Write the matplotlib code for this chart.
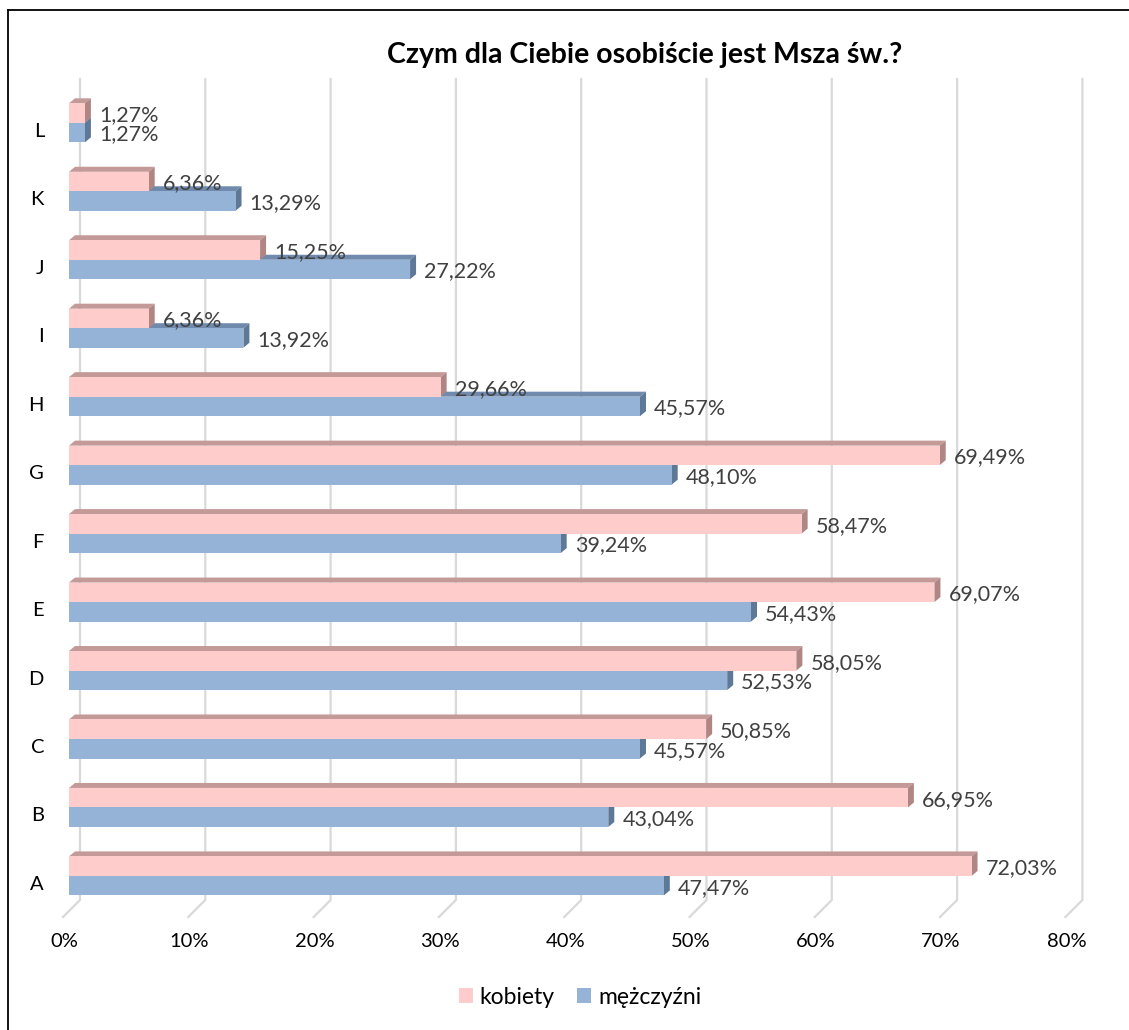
import matplotlib
matplotlib.use("Agg")
from matplotlib import pyplot as plt
from matplotlib.patches import Polygon, Patch
from matplotlib.lines import Line2D
from matplotlib.transforms import ScaledTranslation

categories = ["A", "B", "C", "D", "E", "F", "G", "H", "I", "J", "K", "L"]
kobiety = [72.03, 66.95, 50.85, 58.05, 69.07, 58.47, 69.49, 29.66, 6.36, 15.25, 6.36, 1.27]
mezczyzni = [47.47, 43.04, 45.57, 52.53, 54.43, 39.24, 48.10, 45.57, 13.92, 27.22, 13.29, 1.27]
ticks = [0, 10, 20, 30, 40, 50, 60, 70, 80]
tick_labels = [f"{t}%" for t in ticks]
title = "Czym dla Ciebie osobiście jest Msza św.?"

PINK = "#FFCCCC"
PINK_TOP = "#C49A98"
PINK_SIDE = "#B08684"
BLUE = "#95B3D7"
BLUE_TOP = "#6F8AAD"
BLUE_SIDE = "#5E7898"
GRID = "#D9D9D9"

FONT = ["Lato", "DejaVu Sans"]
plt.rcParams["font.family"] = FONT

W, H = 1129, 1030
fig = plt.figure(figsize=(W / 100, H / 100), dpi=100)
# axes box in pixels: left 69, right 1071, top 79, bottom 917
ax = fig.add_axes([69 / W, 1 - 917 / H, (1071.4 - 69) / W, (917 - 79) / H])
ax.set_xlim(0, 80)
ax.set_ylim(-0.6, 11.64)
for s in ax.spines.values():
    s.set_visible(False)

h = 0.285
DX, DY = 6, 5  # depth of bars in pixels


def px_to_data(pts):
    return ax.transData.inverted().transform(pts)


# back wall gridlines + floor lines
for t in ticks:
    xf, _ = ax.transData.transform((t, 0))
    _, ytop = ax.transAxes.transform((0, 1))
    _, ybot = ax.transAxes.transform((0, 0))
    pts = px_to_data([(xf + 11, ytop), (xf + 11, ybot + 17), (xf - 6, ybot)])
    ax.add_line(Line2D(pts[:, 0], pts[:, 1], color=GRID, lw=1.6, zorder=0,
                       clip_on=False))


def faces(ys, vals, top_c, side_c, z):
    for y, v in zip(ys, vals):
        x0, yb = ax.transData.transform((0, y - h / 2))
        x1, yt = ax.transData.transform((v, y + h / 2))
        top = [(x0, yt), (x1, yt), (x1 + DX, yt + DY), (x0 + DX, yt + DY)]
        side = [(x1, yb), (x1, yt), (x1 + DX, yt + DY), (x1 + DX, yb + DY)]
        ax.add_patch(Polygon(px_to_data(top), closed=True, facecolor=top_c,
                             lw=0, zorder=z))
        ax.add_patch(Polygon(px_to_data(side), closed=True, facecolor=side_c,
                             lw=0, zorder=z))


ypos = list(range(len(categories)))
y_blue = [y - h / 2 for y in ypos]
y_pink = [y + h / 2 for y in ypos]

faces(y_blue, mezczyzni, BLUE_TOP, BLUE_SIDE, 2)
ax.barh(y_blue, mezczyzni, height=h, color=BLUE, lw=0, zorder=3)
faces(y_pink, kobiety, PINK_TOP, PINK_SIDE, 4)
ax.barh(y_pink, kobiety, height=h, color=PINK, lw=0, zorder=5)

lab_off = ScaledTranslation(14 / 100, -2 / 100, fig.dpi_scale_trans)
for y, v in zip(y_pink, kobiety):
    ax.text(v, y, f"{v:.2f}".replace(".", ",") + "%", ha="left", va="center",
            fontsize=15.5, color="#404040", transform=ax.transData + lab_off,
            zorder=6)
for y, v in zip(y_blue, mezczyzni):
    ax.text(v, y, f"{v:.2f}".replace(".", ",") + "%", ha="left", va="center",
            fontsize=15.5, color="#404040", transform=ax.transData + lab_off,
            zorder=6)

ax.set_xticks(ticks, tick_labels, fontsize=14.5)
ax.set_yticks(ypos, categories, fontsize=14.5)
ax.tick_params(axis="both", length=0)
ax.tick_params(axis="x", pad=11.5)
ax.tick_params(axis="y", pad=18)
for lb in ax.get_xticklabels():
    lb.set_transform(lb.get_transform() + ScaledTranslation(-5 / 100, 0, fig.dpi_scale_trans))
for lb in ax.get_yticklabels():
    lb.set_transform(lb.get_transform() + ScaledTranslation(0, -7 / 100, fig.dpi_scale_trans))

fig.text(644.5 / W, 1 - 55 / H, title, ha="center", va="center",
         fontsize=20.5, fontweight="bold")

handles = [Patch(facecolor=PINK, label="kobiety"), Patch(facecolor=BLUE, label="mężczyźni")]
fig.legend(handles=handles, loc="center", bbox_to_anchor=(580 / W, 1 - 997 / H),
           ncol=2, frameon=False, fontsize=16.5, handlelength=0.6, handleheight=0.6,
           handletextpad=0.3, columnspacing=1.0)

# chart border (left and top visible)
fig.add_artist(Line2D([8 / W, 8 / W], [0, 1 - 10 / H], color="black", lw=1.3))
fig.add_artist(Line2D([8 / W, 1], [1 - 10 / H, 1 - 10 / H], color="black", lw=1.3))

fig.savefig("out.png", dpi=100)
